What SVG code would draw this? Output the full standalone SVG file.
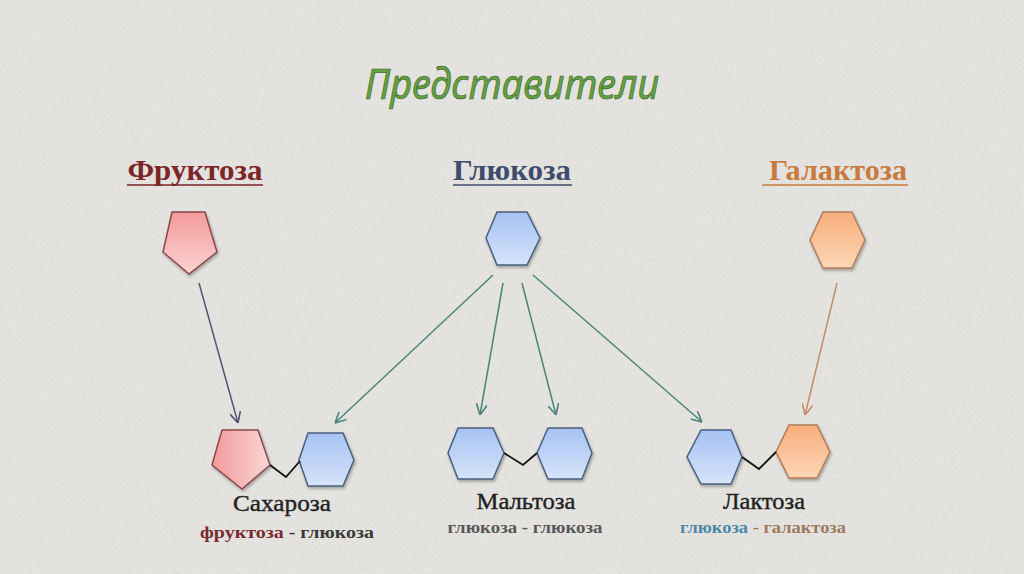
<svg xmlns="http://www.w3.org/2000/svg" width="1024" height="574" viewBox="0 0 1024 574">
<defs>
<filter id="noise" x="0" y="0" width="100%" height="100%">
<feTurbulence type="fractalNoise" baseFrequency="0.9" numOctaves="3" seed="7"/>
<feColorMatrix type="saturate" values="0"/>
</filter>
<filter id="shadow" x="-20%" y="-20%" width="140%" height="150%">
<feDropShadow dx="1" dy="2" stdDeviation="1.5" flood-color="#000" flood-opacity="0.3"/>
</filter>
<linearGradient id="gPink" x1="0" y1="0" x2="0" y2="1"><stop offset="0" stop-color="#f39a9a"/><stop offset="1" stop-color="#fcd3d3"/></linearGradient>
<linearGradient id="gPinkH" x1="0" y1="0" x2="1" y2="0"><stop offset="0" stop-color="#f39a9a"/><stop offset="1" stop-color="#fcd6d6"/></linearGradient>
<linearGradient id="gBlue" x1="0" y1="0" x2="0" y2="1"><stop offset="0" stop-color="#a6c2f2"/><stop offset="1" stop-color="#d6e3fa"/></linearGradient>
<linearGradient id="gOrange" x1="0" y1="0" x2="0" y2="1"><stop offset="0" stop-color="#f7ad7c"/><stop offset="1" stop-color="#fcd6b6"/></linearGradient>
<marker id="aPurple" viewBox="0 0 10 10" refX="10" refY="5" markerWidth="11" markerHeight="11" markerUnits="userSpaceOnUse" orient="auto"><path d="M0,0 L10,5 L0,10" fill="none" stroke="#5a5272" stroke-width="1.5"/></marker>
<marker id="aTeal" viewBox="0 0 10 10" refX="10" refY="5" markerWidth="11" markerHeight="11" markerUnits="userSpaceOnUse" orient="auto"><path d="M0,0 L10,5 L0,10" fill="none" stroke="#4c8479" stroke-width="1.5"/></marker>
<marker id="aOrange" viewBox="0 0 10 10" refX="10" refY="5" markerWidth="11" markerHeight="11" markerUnits="userSpaceOnUse" orient="auto"><path d="M0,0 L10,5 L0,10" fill="none" stroke="#c38f68" stroke-width="1.5"/></marker>
</defs>
<style>
.pink{fill:url(#gPink);stroke:#8a4848;stroke-width:1.5;filter:url(#shadow)}
.pinkh{fill:url(#gPinkH);stroke:#8a4848;stroke-width:1.5;filter:url(#shadow)}
.blue{fill:url(#gBlue);stroke:#4a5f7e;stroke-width:1.5;filter:url(#shadow)}
.orange{fill:url(#gOrange);stroke:#b07c5a;stroke-width:1.5;filter:url(#shadow)}
.link{fill:none;stroke:#111;stroke-width:1.8}
.head{font-family:"Liberation Serif","DejaVu Serif",serif;font-weight:bold;font-size:29px}
.name{font-family:"Liberation Serif","DejaVu Serif",serif;font-size:24px;fill:#222;stroke:#222;stroke-width:0.4}
.sub{font-family:"Liberation Serif","DejaVu Serif",serif;font-size:17px;font-weight:bold}
.arr{fill:none;stroke-width:1.5}
</style>
<rect width="1024" height="574" fill="#e9e7e3"/>
<rect width="1024" height="574" filter="url(#noise)" opacity="0.22"/>

<g id="title">
<text x="512" y="99" text-anchor="middle" font-family="Noto Sans, Open Sans, sans-serif" font-style="italic" font-size="42" fill="#64a044" stroke="#3d6a28" stroke-width="0.7" textLength="294" lengthAdjust="spacingAndGlyphs">Представители</text>
</g>

<g id="fructose">
<text class="head" x="195" y="180" text-anchor="middle" fill="#7b2628" textLength="135" lengthAdjust="spacingAndGlyphs">Фруктоза</text>
<line x1="127" y1="185" x2="263" y2="185" stroke="#7b2628" stroke-width="1.6"/>
<polygon class="pink" points="172,212 205,212 217,252 189,274 163,252"/>
</g>

<g id="glucose">
<text class="head" x="512" y="180" text-anchor="middle" fill="#3e4b6c" textLength="118" lengthAdjust="spacingAndGlyphs">Глюкоза</text>
<line x1="453" y1="185" x2="572" y2="185" stroke="#3e4b6c" stroke-width="1.6"/>
<polygon class="blue" points="497,212 527,212 540,238 527,265 497,265 486,238"/>
</g>

<g id="galactose">
<text class="head" x="838" y="180" text-anchor="middle" fill="#c87a3c" textLength="138" lengthAdjust="spacingAndGlyphs">Галактоза</text>
<line x1="762" y1="185" x2="908" y2="185" stroke="#c87a3c" stroke-width="1.6"/>
<polygon class="orange" points="823,212 852,212 865,240 852,268 823,268 810,240"/>
</g>

<g id="connectors">
<line class="arr" x1="199" y1="283" x2="238" y2="423" stroke="#5a5272" marker-end="url(#aPurple)"/>
<line class="arr" x1="493" y1="275" x2="335" y2="423" stroke="#4c8479" marker-end="url(#aTeal)"/>
<line class="arr" x1="503" y1="283" x2="480" y2="415" stroke="#4c8479" marker-end="url(#aTeal)"/>
<line class="arr" x1="522" y1="283" x2="556" y2="415" stroke="#4c8479" marker-end="url(#aTeal)"/>
<line class="arr" x1="533" y1="275" x2="702" y2="422" stroke="#4c8479" marker-end="url(#aTeal)"/>
<line class="arr" x1="837" y1="283" x2="805" y2="415" stroke="#c38f68" marker-end="url(#aOrange)"/>
</g>

<g id="sucrose">
<polygon class="pinkh" points="222,430 258,430 270,465 242,489 212,465"/>
<polygon class="blue" points="308,433 343,433 354,460 343,486 308,486 299,460"/>
<polyline class="link" points="270,465 286,477 300,461"/>
<text class="name" x="282" y="511" text-anchor="middle" textLength="98" lengthAdjust="spacingAndGlyphs">Сахароза</text>
<text class="sub" x="287" y="538" text-anchor="middle" textLength="174" lengthAdjust="spacingAndGlyphs"><tspan fill="#7a2a30">фруктоза</tspan><tspan fill="#3a3a3a"> - глюкоза</tspan></text>
</g>

<g id="maltose">
<polygon class="blue" points="458,428 493,428 504,453 493,479 458,479 448,453"/>
<polygon class="blue" points="548,428 582,428 592,453 582,479 548,479 537,453"/>
<polyline class="link" points="504,453 523,465 537,453"/>
<text class="name" x="526" y="509" text-anchor="middle" textLength="99" lengthAdjust="spacingAndGlyphs">Мальтоза</text>
<text class="sub" x="525" y="533" text-anchor="middle" fill="#585858" textLength="155" lengthAdjust="spacingAndGlyphs">глюкоза - глюкоза</text>
</g>

<g id="lactose">
<polygon class="blue" points="701,430 731,430 742,457 731,484 701,484 687,457"/>
<polygon class="orange" points="789,425 817,425 830,452 817,478 789,478 776,452"/>
<polyline class="link" points="742,457 759,469 776,452"/>
<text class="name" x="764" y="509" text-anchor="middle" textLength="82" lengthAdjust="spacingAndGlyphs">Лактоза</text>
<text class="sub" x="763" y="533" text-anchor="middle" textLength="166" lengthAdjust="spacingAndGlyphs"><tspan fill="#4a8aa6">глюкоза</tspan><tspan fill="#9a7a5e"> - галактоза</tspan></text>
</g>
</svg>
